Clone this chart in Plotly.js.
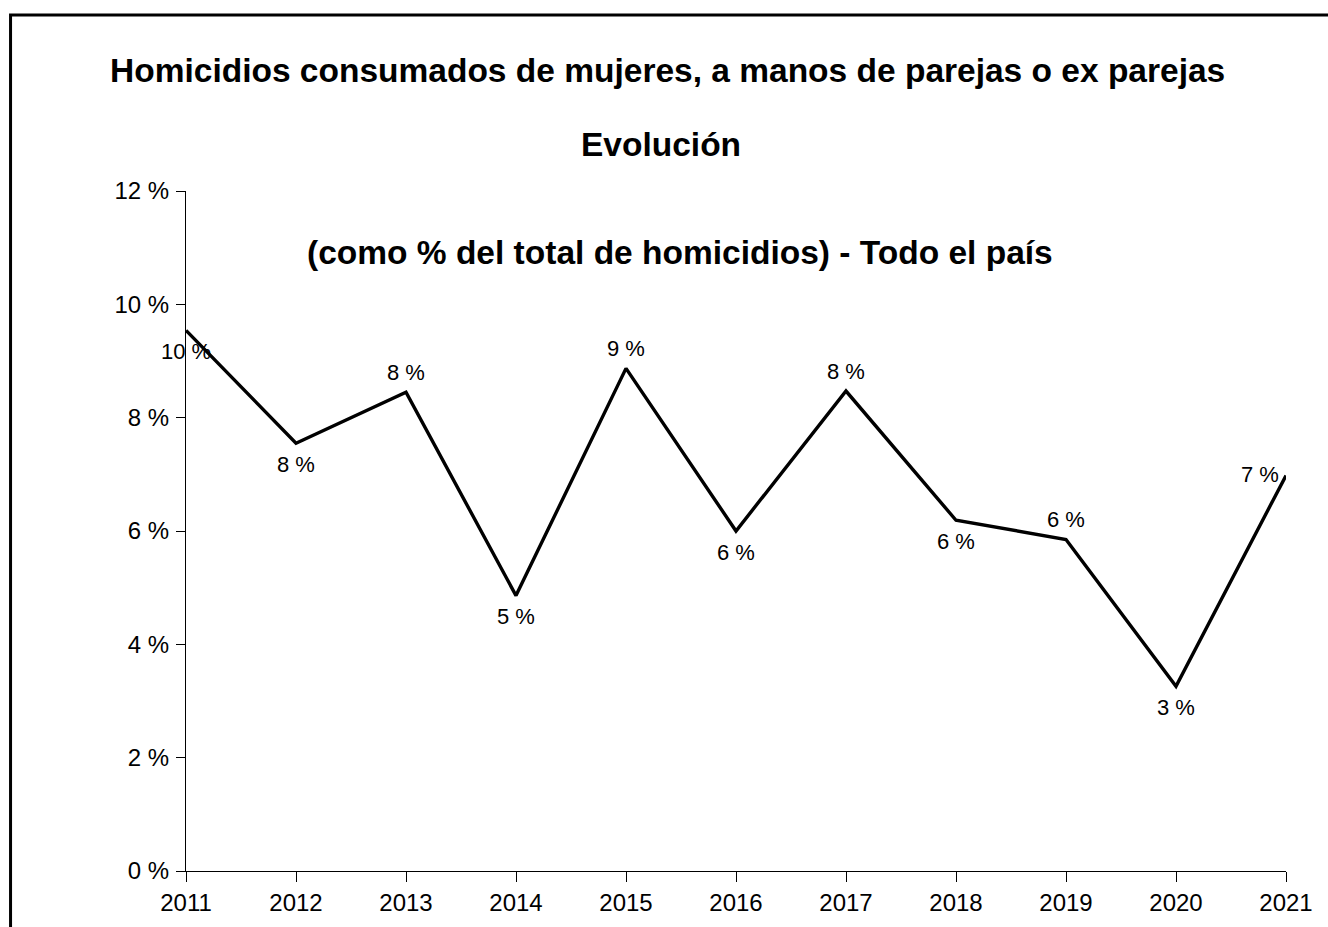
<!DOCTYPE html>
<html>
<head>
<meta charset="utf-8">
<script src="https://cdn.plot.ly/plotly-3.0.1.min.js"></script>
<style>
  html, body { margin: 0; padding: 0; background: #fff; }
  #chart { width: 1328px; height: 927px; }
</style>
</head>
<body>
<div id="chart"></div>
<script>
// ---- data ----
const years = [2011, 2012, 2013, 2014, 2015, 2016, 2017, 2018, 2019, 2020, 2021];
const pctValues = [9.54, 7.55, 8.45, 4.86, 8.87, 6.00, 8.47, 6.19, 5.85, 3.26, 6.98];
const pointLabels = ['10 %', '8 %', '8 %', '5 %', '9 %', '6 %', '8 %', '6 %', '6 %', '3 %', '7 %'];
const yTickVals = [0, 2, 4, 6, 8, 10, 12];
const yTickText = ['0 %', '2 %', '4 %', '6 %', '8 %', '10 %', '12 %'];
const titleLines = [
  'Homicidios consumados de mujeres, a manos de parejas o ex parejas',
  'Evolución',
  '(como % del total de homicidios) - Todo el país'
];

// ---- label placement (style) ----
const placement = ['below', 'below', 'above', 'below', 'above', 'below', 'above', 'below', 'above', 'below', 'left'];

const FONT = 'Liberation Sans, Arial, Helvetica, sans-serif';

const trace = {
  x: years,
  y: pctValues,
  type: 'scatter',
  mode: 'lines',
  line: { color: '#000', width: 3.4 },
  hoverinfo: 'x+y'
};

const labelAnns = years.map((yr, i) => {
  const p = placement[i];
  const a = {
    x: yr, y: pctValues[i], xref: 'x', yref: 'y',
    text: pointLabels[i], showarrow: false,
    font: { family: FONT, size: 22, color: '#000' },
    yanchor: 'middle'
  };
  if (p === 'below') { a.xanchor = 'center'; a.yshift = -21; }
  else if (p === 'above') { a.xanchor = 'center'; a.yshift = 20; }
  else { a.xanchor = 'right'; a.xshift = -5; a.yshift = 1; }
  return a;
});

const titleY = [1.1775, 1.0687, 0.9099];
const titleX = [0.4373, 0.4318, 0.4491];
const titleAnns = titleLines.map((t, i) => ({
  xref: 'paper', yref: 'paper', x: titleX[i], y: titleY[i],
  xanchor: 'center', yanchor: 'middle', showarrow: false,
  text: '<b>' + t + '</b>',
  font: { family: FONT, size: 33.5, color: '#000' }
}));

const layout = {
  width: 1328, height: 927,
  margin: { l: 186, r: 42, t: 190.7, b: 56.3, pad: 0 },
  paper_bgcolor: '#fff', plot_bgcolor: '#fff',
  showlegend: false,
  font: { family: FONT, size: 24, color: '#000' },
  xaxis: {
    range: [2011, 2021],
    tickvals: years,
    ticktext: years.map(String),
    ticks: 'outside', ticklen: 10, tickwidth: 1, tickcolor: '#000',
    showline: true, linecolor: '#000', linewidth: 1,
    showgrid: false, zeroline: false,
    tickfont: { family: FONT, size: 24, color: '#000' },
    fixedrange: true
  },
  yaxis: {
    range: [0, 12],
    tickvals: yTickVals,
    ticktext: yTickText,
    ticks: 'outside', ticklen: 9, tickwidth: 1, tickcolor: '#000',
    showline: true, linecolor: '#000', linewidth: 1,
    showgrid: false, zeroline: false,
    ticklabelstandoff: 2,
    tickfont: { family: FONT, size: 24, color: '#000' },
    fixedrange: true
  },
  annotations: titleAnns.concat(labelAnns),
  shapes: [{
    type: 'rect', xref: 'paper', yref: 'paper',
    x0: -0.1595, x1: 1.05, y0: -0.12, y1: 1.259,
    line: { color: '#000', width: 3 }, fillcolor: 'rgba(0,0,0,0)',
    layer: 'below'
  }]
};

Plotly.newPlot('chart', [trace], layout, { displayModeBar: false, staticPlot: true });
</script>
</body>
</html>
